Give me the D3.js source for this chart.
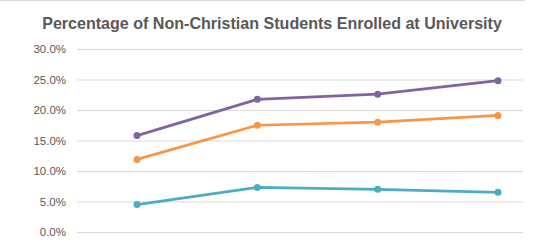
<!doctype html>
<html>
<head>
<style>
  body { margin: 0; background: #fff; }
  svg { display: block; font-family: "Liberation Sans", "DejaVu Sans", sans-serif; }
</style>
</head>
<body>
<svg id="chart" width="556" height="249"></svg>
<script src="https://d3js.org/d3.v7.min.js"></script>
<script>
const categories = ['1', '2', '3', '4'];
const purpleValues = [15.8, 21.75, 22.6, 24.8];
const orangeValues = [11.9, 17.5, 18.0, 19.1];
const tealValues = [4.5, 7.3, 7.0, 6.5];
const yTicks = [0, 5, 10, 15, 20, 25, 30];
const seriesColors = ['#8064a2', '#f79646', '#4bacc6'];

const svg = d3.select('#chart');

// chart border (only top edge visible in the crop)
svg.append('line')
  .attr('x1', 0).attr('x2', 525)
  .attr('y1', 0.5).attr('y2', 0.5)
  .attr('stroke', '#d9d9d9');

const title = svg.append('text')
  .attr('x', 272)
  .attr('y', 29)
  .attr('text-anchor', 'middle')
  .attr('fill', '#595959')
  .attr('font-weight', 'bold')
  .attr('font-size', 20)
  .text('Percentage of Non-Christian Students Enrolled at University');
// shrink the font until the title fits the same width as the original
const titleWidth = title.node().getComputedTextLength();
if (titleWidth > 460) title.attr('font-size', 20 * 460 / titleWidth);

const yScale = d3.scaleLinear().domain([0, 30]).range([232, 49]);
const xScale = d3.scalePoint().domain(categories).range([137, 498]);

const yAxis = svg.append('g')
  .attr('transform', 'translate(77,0)')
  .call(d3.axisLeft(yScale)
    .tickValues(yTicks)
    .tickSize(-446)
    .tickPadding(11)
    .tickFormat(d => d.toFixed(1) + '%'));
yAxis.select('.domain').remove();
yAxis.selectAll('line').attr('stroke', '#d9d9d9');
yAxis.selectAll('text')
  .attr('fill', '#595959')
  .attr('font-size', 11.5);

const series = [purpleValues, orangeValues, tealValues];
const line = d3.line()
  .x((d, i) => xScale(categories[i]))
  .y(d => yScale(d));

series.forEach((values, s) => {
  svg.append('path')
    .datum(values)
    .attr('d', line)
    .attr('fill', 'none')
    .attr('stroke', seriesColors[s])
    .attr('stroke-width', 2.75)
    .attr('stroke-linejoin', 'round');
  svg.selectAll(null)
    .data(values)
    .enter()
    .append('circle')
    .attr('cx', (d, i) => xScale(categories[i]))
    .attr('cy', d => yScale(d))
    .attr('r', 3.5)
    .attr('fill', seriesColors[s]);
});
</script>
</body>
</html>
